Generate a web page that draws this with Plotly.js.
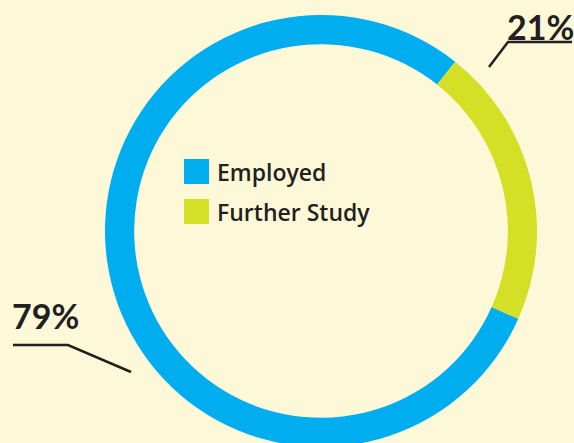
<!DOCTYPE html>
<html><head><meta charset="utf-8">
<script src="https://cdn.plot.ly/plotly-3.0.1.min.js"></script>
<style>html,body{margin:0;padding:0;overflow:hidden;background:#FDF9D8;}#c{width:574px;height:460px;}</style>
</head><body><div id="c"></div>
<script>
var categories = ["Employed", "Further Study"];
var values = [79, 21];
var pctLabels = ["79%", "21%"];
var colors = ["#00AEEF", "#D5DF26"];

var W = 574, H = 460;
function px(x){return x / W;}
function py(y){return 1 - y / H;}

var trace = {
  type: "pie",
  labels: categories,
  values: values,
  hole: 0.865,
  sort: false,
  direction: "clockwise",
  rotation: 114,
  textinfo: "none",
  hoverinfo: "label+percent",
  marker: {colors: colors, line: {width: 0}},
  domain: {x: [px(105), px(537)], y: [py(447), py(15)]},
  showlegend: false
};

var dark = "#231F20";
var shapes = [];
var annotations = [];
// manual legend
categories.forEach(function(c, i){
  var top = 159 + i * 40;
  shapes.push({type: "rect", xref: "paper", yref: "paper",
    x0: px(184), x1: px(209), y0: py(top + 25), y1: py(top),
    fillcolor: colors[i], line: {width: 0}});
  annotations.push({xref: "paper", yref: "paper", x: px(215), y: py(top + 13),
    xanchor: "left", yanchor: "middle", showarrow: false, text: c,
    font: {family: "Open Sans", size: 23, color: dark, weight: 600}});
});
// percent labels with leader lines
annotations.push({xref: "paper", yref: "paper", x: px(45), y: py(315), xanchor: "center", yanchor: "middle",
  showarrow: false, text: pctLabels[0], font: {family: "Lato", size: 34, color: dark, weight: 700}});
annotations.push({xref: "paper", yref: "paper", x: px(540), y: py(26), xanchor: "center", yanchor: "middle",
  showarrow: false, text: pctLabels[1], font: {family: "Lato", size: 34, color: dark, weight: 700}});
shapes.push({type: "path", xref: "paper", yref: "paper",
  path: "M " + px(13) + "," + py(345) + " L " + px(68) + "," + py(345) + " L " + px(131) + "," + py(372),
  line: {color: dark, width: 2.5}});
shapes.push({type: "path", xref: "paper", yref: "paper",
  path: "M " + px(489) + "," + py(67) + " L " + px(508) + "," + py(42) + " L " + px(572) + "," + py(42),
  line: {color: dark, width: 2.5}});

var layout = {
  width: W, height: H,
  margin: {l: 0, r: 0, t: 0, b: 0},
  paper_bgcolor: "#FDF9D8",
  plot_bgcolor: "#FDF9D8",
  shapes: shapes,
  annotations: annotations,
  showlegend: false
};
Plotly.newPlot("c", [trace], layout, {displayModeBar: false, staticPlot: true});
</script></body></html>
